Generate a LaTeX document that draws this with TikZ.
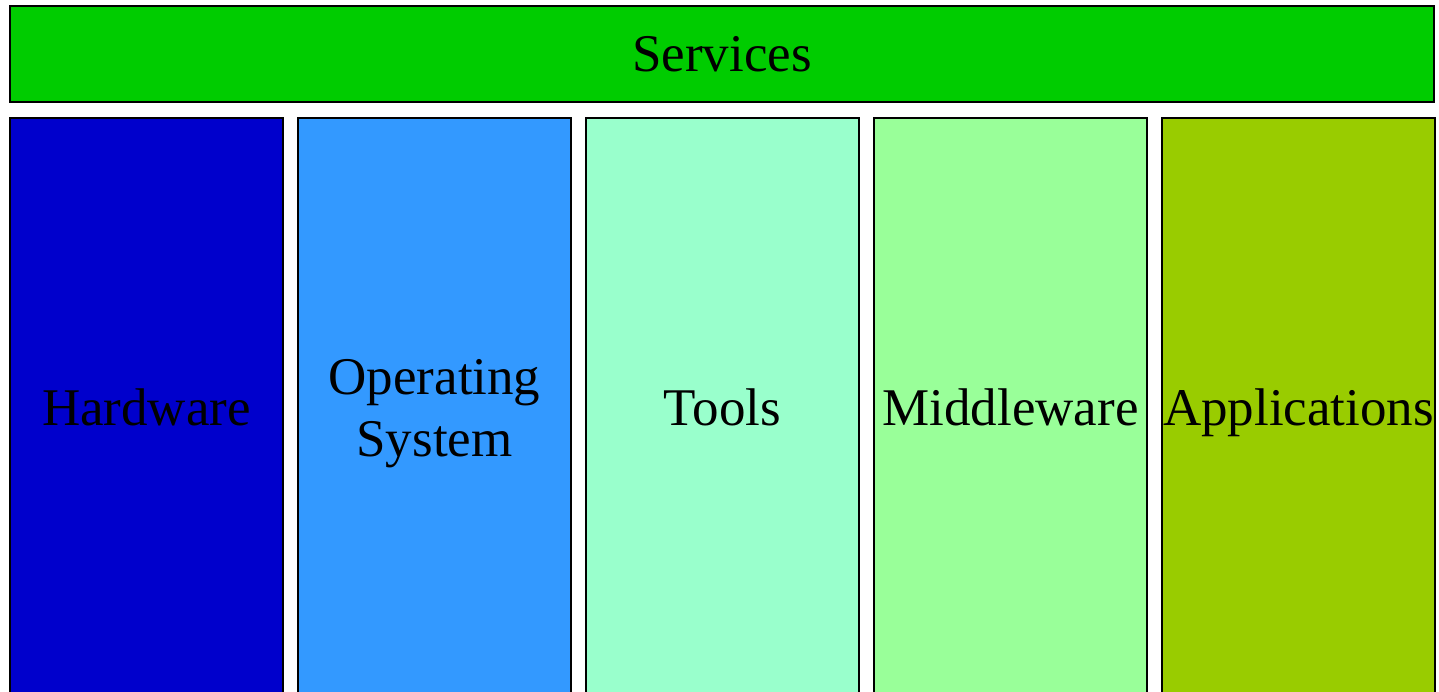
\documentclass[tikz,border=0pt]{standalone}
\usepackage{fontspec}
\setmainfont{Liberation Serif}
\definecolor{svc}{HTML}{00CC00}
\definecolor{hw}{HTML}{0000CC}
\definecolor{os}{HTML}{3399FF}
\definecolor{tl}{HTML}{99FFCC}
\definecolor{mw}{HTML}{99FF99}
\definecolor{app}{HTML}{99CC00}
\begin{document}
\begin{tikzpicture}[x=1pt,y=-1pt,
  box/.style={draw=black,line width=1.8pt,inner sep=0pt,outer sep=0pt,
    font=\fontsize{53}{62}\selectfont,align=center,anchor=north west,
    text height=35pt,text depth=0pt},
  col/.style={box,minimum width=273pt,minimum height=580pt}]
\useasboundingbox (0,0) rectangle (1439,692);
\clip (0,0) rectangle (1439,692);
\node[box,fill=svc,minimum width=1424pt,minimum height=96pt] (services) at (10,6) {Services};
\node[col,fill=hw] (hardware) at (10,118) {Hardware};
\node[col,fill=os,text height=97pt] (osys) at (298,118) {Operating\\System};
\node[col,fill=tl] (tools) at (586,118) {Tools};
\node[col,fill=mw] (middleware) at (874,118) {Middleware};
\node[col,fill=app] (apps) at (1162,118) {Applications};
\end{tikzpicture}
\end{document}
